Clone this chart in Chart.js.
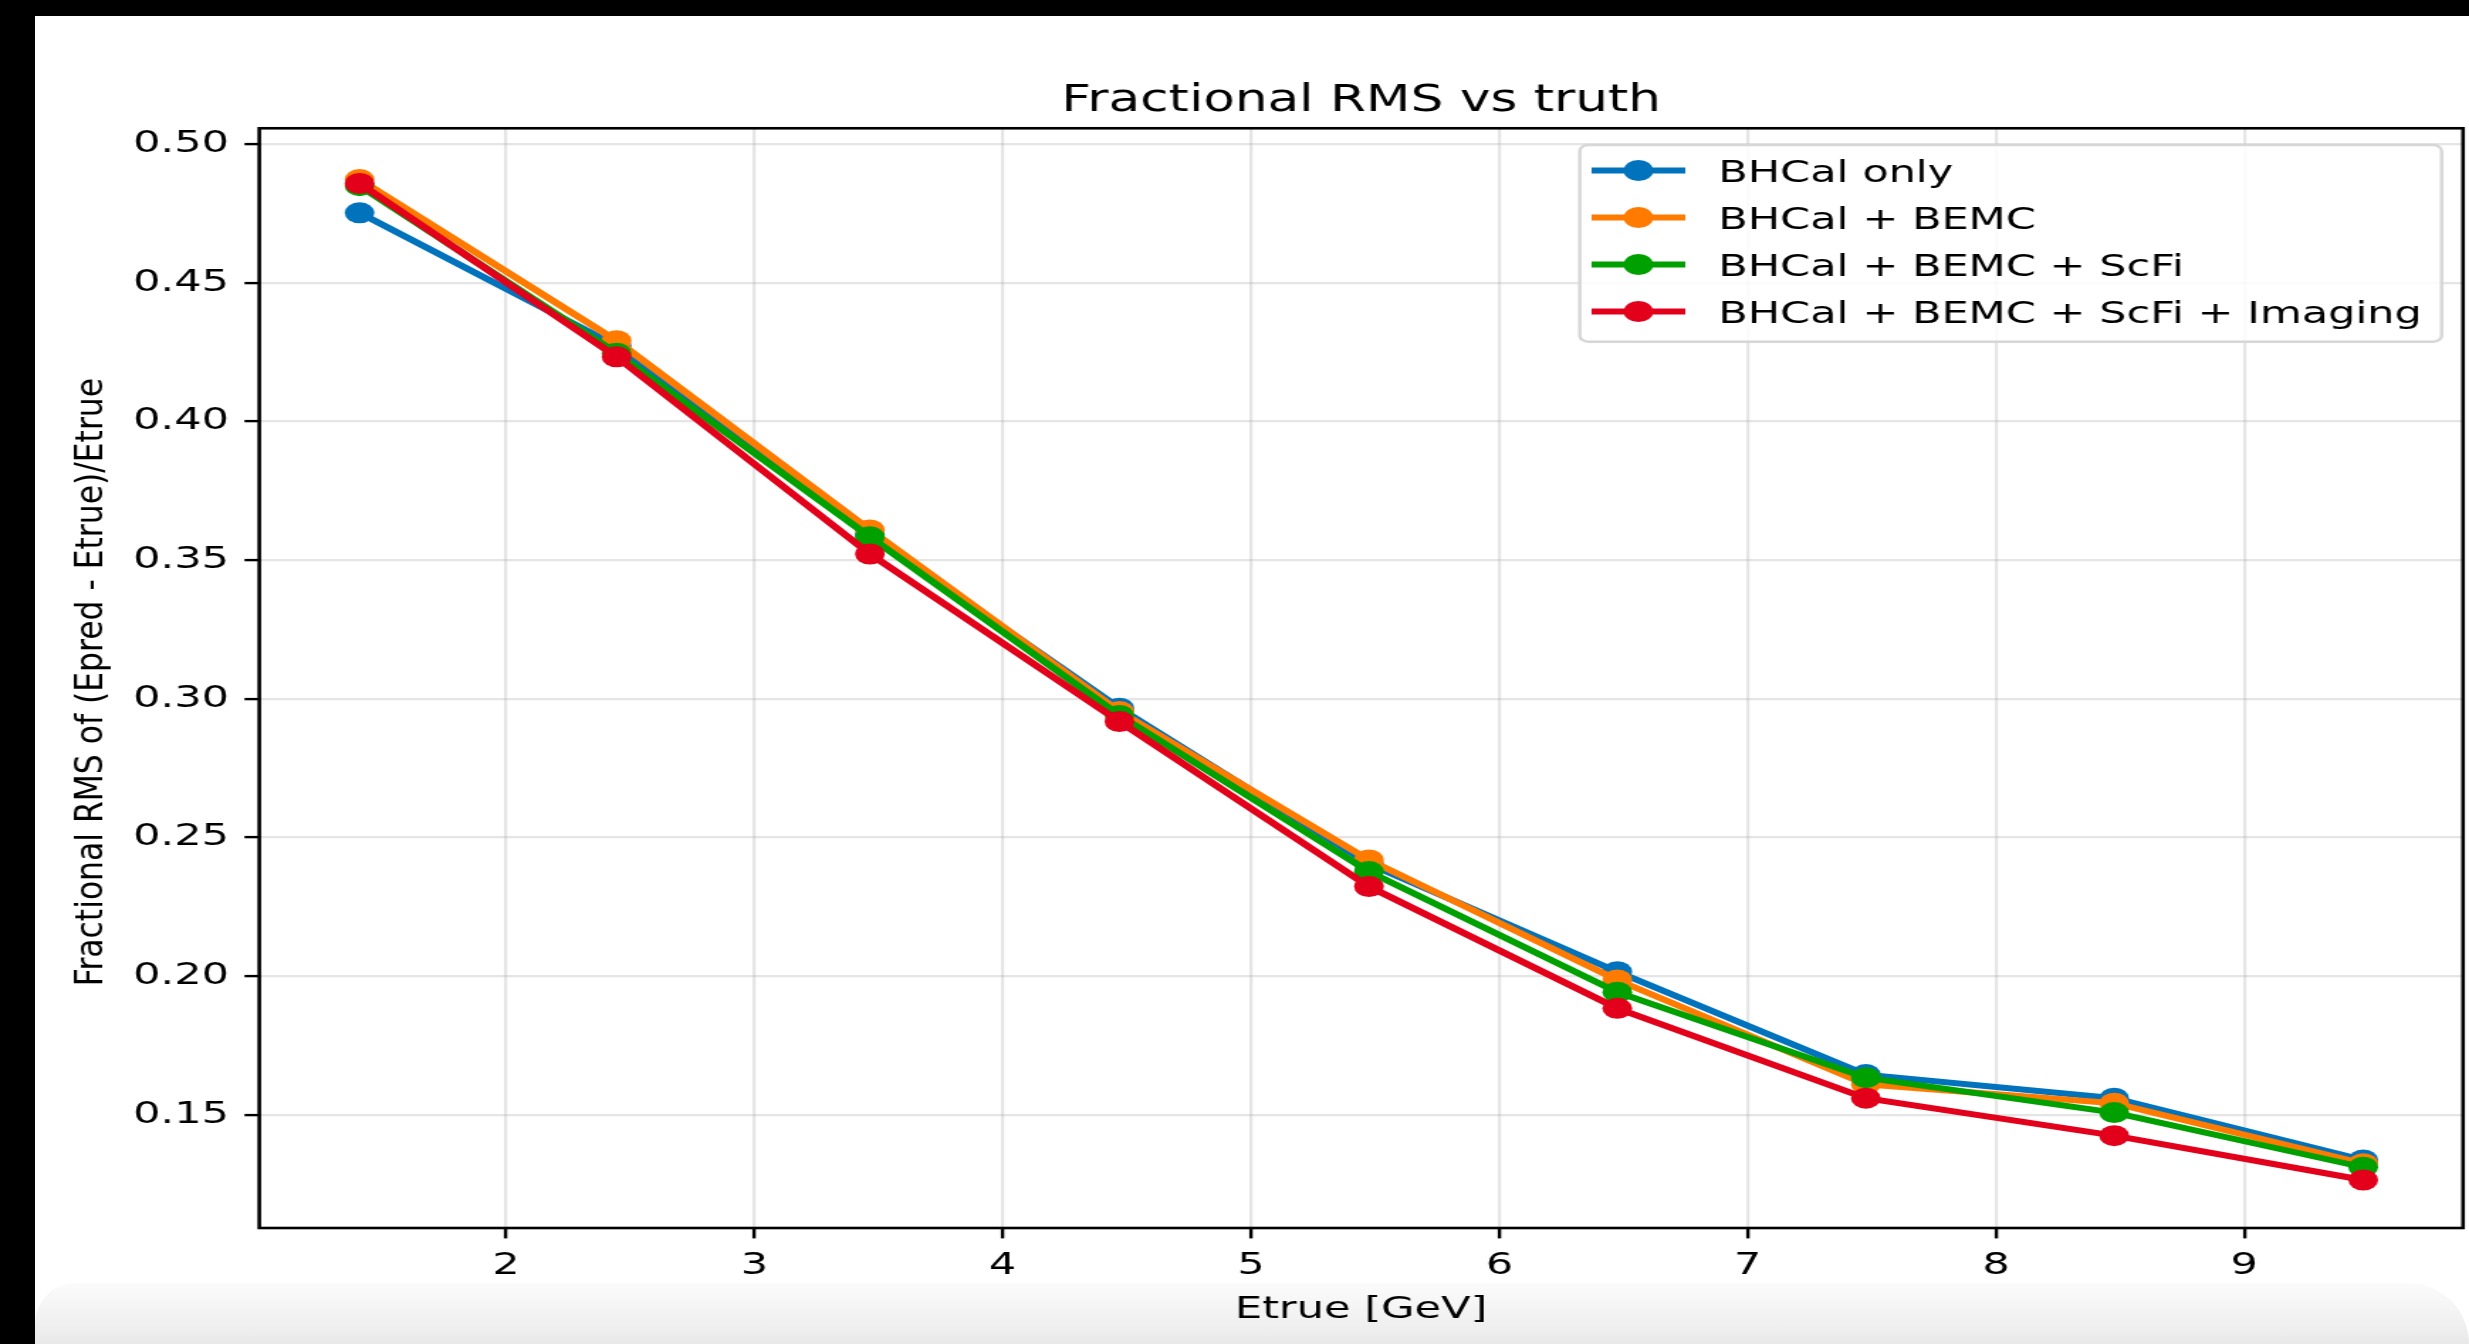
<!DOCTYPE html>
<html><head><meta charset="utf-8">
<script src="https://cdn.jsdelivr.net/npm/chart.js@4.4.1/dist/chart.umd.min.js"></script>
<style>
html,body{margin:0;padding:0;background:#000;width:2469px;height:1344px;overflow:hidden;}
#card{position:absolute;left:35px;top:16px;right:0;bottom:0;background:#fff;}
#band{position:absolute;left:35px;right:0;top:1283px;bottom:0;background:linear-gradient(#fbfbfb,#f2f2f2 55%,#e9e9e9);border-radius:60px 90px 0 0;}
#wrap{position:absolute;left:0;top:0;width:1739px;height:1344px;transform:scaleX(1.41978);transform-origin:0 0;}
canvas{display:block;}
</style></head><body>
<div id="card"></div><div id="band"></div>
<div id="wrap"><canvas id="c" width="1739" height="1344"></canvas></div>
<script>
const titleText = 'Fractional RMS vs truth';
const xTitle = 'Etrue [GeV]';
const yTitle = 'Fractional RMS of (Epred - Etrue)/Etrue';
const seriesNames = ['BHCal only', 'BHCal + BEMC', 'BHCal + BEMC + ScFi', 'BHCal + BEMC + ScFi + Imaging'];
const seriesColors = ['#0173bd', '#ff7b00', '#00a000', '#e3001b'];
const eTrue = [1.41, 2.445, 3.465, 4.47, 5.475, 6.475, 7.476, 8.476, 9.479];
const bhcalOnly        = [0.4752, 0.4272, 0.3592, 0.2966, 0.2405, 0.2016, 0.1645, 0.1560, 0.1337];
const bhcalBemc        = [0.4872, 0.4291, 0.3609, 0.2954, 0.2419, 0.1986, 0.1610, 0.1542, 0.1324];
const bhcalBemcScfi    = [0.4850, 0.4246, 0.3584, 0.2940, 0.2377, 0.1942, 0.1634, 0.1508, 0.1311];
const bhcalBemcScfiImg = [0.4858, 0.4233, 0.3522, 0.2918, 0.2323, 0.1884, 0.1560, 0.1425, 0.1265];
const seriesValues = [bhcalOnly, bhcalBemc, bhcalBemcScfi, bhcalBemcScfiImg];
const xTicks = [2, 3, 4, 5, 6, 7, 8, 9];
const xTickLabels = ['2', '3', '4', '5', '6', '7', '8', '9'];
const yTicks = [0.15, 0.20, 0.25, 0.30, 0.35, 0.40, 0.45, 0.50];
const yTickLabels = ['0.15', '0.20', '0.25', '0.30', '0.35', '0.40', '0.45', '0.50'];

const S = 2469 / 1739;
const FAMILY = "'DejaVu Sans', 'Liberation Sans', sans-serif";
const Y_TITLE_PAD = 46.1, Y_TITLE_SIZE = 31.4, Y_TITLE_K = 1.16;

const yTitleFix = {
  id: 'yTitleFix',
  beforeDraw(chart) {
    const sc = chart.scales.y;
    if (sc && !sc.__fixed) {
      const orig = sc.drawTitle;
      sc.drawTitle = function () {
        const ctx = this.ctx;
        const cx = this.left + Y_TITLE_PAD + Y_TITLE_SIZE * 1.2 / 2;
        ctx.save();
        ctx.translate(cx, 4);
        ctx.scale(Y_TITLE_K / S, 1);
        ctx.translate(-cx, 0);
        orig.call(this);
        ctx.restore();
      };
      sc.__fixed = true;
    }
  }
};

const frameAndLegend = {
  id: 'frameAndLegend',
  afterDraw(chart) {
    const ctx = chart.ctx, a = chart.chartArea;
    ctx.save();
    ctx.strokeStyle = '#000';
    ctx.lineWidth = 2.6;
    ctx.strokeRect(a.left, a.top, a.right - a.left, a.bottom - a.top);
    const L = 1112.7, R = 1719.7, T = 145, B = 341.7;
    ctx.beginPath();
    ctx.roundRect(L, T, R - L, B - T, 6);
    ctx.fillStyle = 'rgba(255,255,255,0.85)';
    ctx.fill();
    ctx.strokeStyle = '#d6d6d6';
    ctx.lineWidth = 2.4;
    ctx.stroke();
    ctx.font = '30.3px ' + FAMILY;
    ctx.textBaseline = 'alphabetic';
    ctx.textAlign = 'left';
    chart.data.datasets.forEach((ds, i) => {
      const y = 170.5 + 47 * i;
      ctx.strokeStyle = ds.borderColor;
      ctx.lineWidth = ds.borderWidth;
      ctx.beginPath();
      ctx.moveTo(1121, y);
      ctx.lineTo(1187, y);
      ctx.stroke();
      ctx.fillStyle = ds.borderColor;
      ctx.beginPath();
      ctx.arc(1154, y, ds.pointRadius, 0, Math.PI * 2);
      ctx.fill();
      ctx.fillStyle = '#000';
      ctx.fillText(ds.label, 1210.3, y + 11);
    });
    ctx.restore();
  }
};

const datasets = seriesNames.map((name, i) => ({
  label: name,
  data: eTrue.map((x, j) => ({ x: x, y: seriesValues[i][j] })),
  borderColor: seriesColors[i],
  backgroundColor: seriesColors[i],
  pointBackgroundColor: seriesColors[i],
  pointBorderWidth: 0,
  pointRadius: 10.5,
  pointHoverRadius: 10.5,
  borderWidth: 6,
  tension: 0,
  order: seriesNames.length - 1 - i
}));

const gridOpts = {
  color: 'rgba(176,176,176,0.33)',
  lineWidth: 2.2,
  drawTicks: true,
  tickColor: '#000',
  tickLength: 10.4,
  tickWidth: 2.4
};

new Chart(document.getElementById('c'), {
  type: 'line',
  data: { datasets: datasets },
  plugins: [yTitleFix, frameAndLegend],
  options: {
    responsive: false,
    animation: false,
    devicePixelRatio: 1,
    layout: { autoPadding: false, padding: { left: 0, right: 4.2, top: 0, bottom: 0 } },
    plugins: {
      legend: { display: false },
      tooltip: { enabled: false },
      title: {
        display: true, text: titleText, fullSize: false, align: 'center', color: '#000',
        font: { family: FAMILY, size: 36.4, weight: 'normal' },
        padding: { top: 80, bottom: 4.6 }
      }
    },
    scales: {
      x: {
        type: 'linear', bounds: 'data', min: 1.006, max: 9.881,
        afterBuildTicks: (ax) => { ax.ticks = xTicks.map(v => ({ value: v })); },
        afterFit: (ax) => { ax.height = 116; ax.paddingLeft = 0; ax.paddingRight = 0; },
        grid: gridOpts,
        border: { display: false },
        ticks: {
          color: '#000', font: { family: FAMILY, size: 30.3 }, padding: 9.5,
          maxRotation: 0, autoSkip: false,
          callback: (v, i) => xTickLabels[i]
        },
        title: {
          display: true, text: xTitle, color: '#000',
          font: { family: FAMILY, size: 30.4 }, padding: { top: 0, bottom: 16 }
        }
      },
      y: {
        type: 'linear', bounds: 'data', min: 0.1092, max: 0.5057,
        afterBuildTicks: (ax) => { ax.ticks = yTicks.map(v => ({ value: v })); },
        afterFit: (ax) => { ax.width = 182.6; ax.paddingTop = 0; ax.paddingBottom = 0; },
        grid: gridOpts,
        border: { display: false },
        ticks: {
          color: '#000', font: { family: FAMILY, size: 30.3 }, padding: 11,
          autoSkip: false,
          callback: (v, i) => yTickLabels[i]
        },
        title: {
          display: true, text: yTitle, color: '#000',
          font: { family: FAMILY, size: Y_TITLE_SIZE }, padding: { top: Y_TITLE_PAD, bottom: 0 }
        }
      }
    }
  }
});
</script>
</body></html>
